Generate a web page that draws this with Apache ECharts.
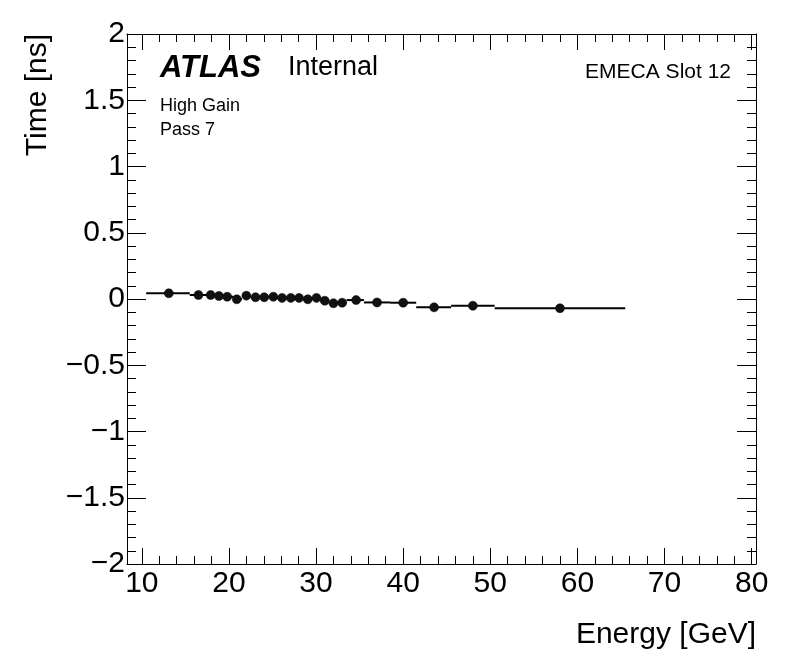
<!DOCTYPE html>
<html>
<head>
<meta charset="utf-8">
<title>EMECA Slot 12</title>
<script src="https://cdn.jsdelivr.net/npm/echarts@6/dist/echarts.min.js"></script>
<style>
  html, body { margin: 0; padding: 0; background: #fff; }
  #chart { width: 796px; height: 672px; }
</style>
</head>
<body>
<div id="chart"></div>
<script>
'use strict';

// mean energy of each bin [GeV]
var energy = [13.1, 16.5, 17.9, 18.85, 19.8, 20.9, 22.0, 23.05, 24.05, 25.1, 26.1, 27.1,
  28.05, 29.05, 30.05, 31.0, 32.0, 33.0, 34.6, 37.0, 40.0, 43.55, 48.0, 58.0];
// mean time [ns]
var time = [0.043, 0.030, 0.030, 0.023, 0.017, -0.002, 0.025, 0.013, 0.013, 0.017, 0.008, 0.008,
  0.008, -0.002, 0.008, -0.013, -0.032, -0.028, -0.008, -0.026, -0.028, -0.063, -0.051, -0.070];
// bin edges (horizontal error bars)
var binLow = [10.5, 15.5, 17.5, 18.5, 19.5, 20.5, 21.5, 22.5, 23.5, 24.5, 25.5, 26.5,
  27.5, 28.5, 29.5, 30.5, 31.5, 32.5, 33.5, 35.5, 38.5, 41.5, 45.5, 50.5];
var binHigh = [15.5, 17.5, 18.5, 19.5, 20.5, 21.5, 22.5, 23.5, 24.5, 25.5, 26.5, 27.5,
  28.5, 29.5, 30.5, 31.5, 32.5, 33.5, 35.5, 38.5, 41.5, 45.5, 50.5, 65.5];

// tick positions
var xMajorTicks = [10, 20, 30, 40, 50, 60, 70, 80];
var xMinorTicks = [10, 12, 14, 16, 18, 20, 22, 24, 26, 28, 30, 32, 34, 36, 38, 40, 42, 44, 46,
  48, 50, 52, 54, 56, 58, 60, 62, 64, 66, 68, 70, 72, 74, 76, 78, 80];

var FONT = '"Liberation Sans", Arial, Helvetica, sans-serif';
var X_MIN = 8.3, X_MAX = 80.5;

var chart = echarts.init(document.getElementById('chart'));

var pointData = [];
var barData = [];
for (var i = 0; i < energy.length; i++) {
  pointData.push([energy[i], time[i]]);
  barData.push([binLow[i], binHigh[i], time[i]]);
}

var black = { color: '#000', width: 1 };

function xAxis(position, ticks, len, withLine, withLabel) {
  return {
    type: 'value',
    position: position,
    min: X_MIN,
    max: X_MAX,
    axisLine: { show: withLine, onZero: false, lineStyle: black },
    axisTick: { show: true, inside: true, length: len, customValues: ticks, lineStyle: black },
    axisLabel: {
      show: withLabel,
      customValues: ticks,
      margin: 5,
      color: '#000',
      fontSize: 30,
      fontFamily: FONT
    },
    splitLine: { show: false }
  };
}

function yAxis(position, withLabel) {
  return {
    type: 'value',
    position: position,
    min: -2,
    max: 2,
    interval: 0.5,
    axisLine: { show: true, onZero: false, lineStyle: black },
    axisTick: { show: true, inside: true, length: 19, lineStyle: black },
    minorTick: { show: true, splitNumber: 5, length: 9, lineStyle: black },
    axisLabel: {
      show: withLabel,
      margin: 2,
      color: '#000',
      fontSize: 30,
      fontFamily: FONT,
      formatter: function (v) {
        return v < 0 ? '\u2212' + Math.abs(v) : String(v);
      }
    },
    splitLine: { show: false },
    minorSplitLine: { show: false }
  };
}

var option = {
  backgroundColor: '#fff',
  animation: false,
  grid: {
    left: 127,
    right: 40,
    top: 34,
    bottom: 108,
    containLabel: false,
    outerBoundsMode: 'none'
  },
  xAxis: [
    xAxis('bottom', xMajorTicks, 16, true, true),
    xAxis('bottom', xMinorTicks, 8, false, false),
    xAxis('top', xMajorTicks, 16, true, false),
    xAxis('top', xMinorTicks, 8, false, false)
  ],
  yAxis: [
    yAxis('left', true),
    yAxis('right', false)
  ],
  graphic: [
    {
      type: 'text', x: 160, y: 68,
      style: { text: 'ATLAS', font: 'italic bold 31px ' + FONT, fill: '#000', verticalAlign: 'middle' }
    },
    {
      type: 'text', x: 288, y: 68,
      style: { text: 'Internal', font: '27px ' + FONT, fill: '#000', verticalAlign: 'middle' }
    },
    {
      type: 'text', x: 160, y: 106,
      style: { text: 'High Gain', font: '18px ' + FONT, fill: '#000', verticalAlign: 'middle' }
    },
    {
      type: 'text', x: 160, y: 130,
      style: { text: 'Pass 7', font: '18px ' + FONT, fill: '#000', verticalAlign: 'middle' }
    },
    {
      type: 'text', x: 731, y: 72,
      style: { text: 'EMECA Slot 12', font: '21px ' + FONT, fill: '#000', align: 'right', verticalAlign: 'middle' }
    },
    {
      type: 'text', x: 756, y: 635,
      style: { text: 'Energy [GeV]', font: '30px ' + FONT, fill: '#000', align: 'right', verticalAlign: 'middle' }
    },
    {
      type: 'text', x: 38, y: 34, rotation: Math.PI / 2,
      style: { text: 'Time [ns]', font: '30px ' + FONT, fill: '#000', align: 'right', verticalAlign: 'middle' }
    }
  ],
  series: [
    {
      // bin width bars
      type: 'custom',
      xAxisIndex: 0,
      yAxisIndex: 0,
      data: barData,
      encode: { x: [0, 1], y: 2 },
      renderItem: function (params, api) {
        var a = api.coord([api.value(0), api.value(2)]);
        var b = api.coord([api.value(1), api.value(2)]);
        return {
          type: 'line',
          shape: { x1: a[0], y1: a[1], x2: b[0], y2: b[1] },
          style: { stroke: '#000', lineWidth: 2 }
        };
      },
      z: 2
    },
    {
      type: 'scatter',
      xAxisIndex: 0,
      yAxisIndex: 0,
      data: pointData,
      symbol: 'circle',
      symbolSize: 9,
      itemStyle: { color: '#111', borderColor: '#000', borderWidth: 0.5, opacity: 1 },
      z: 3
    }
  ]
};

chart.setOption(option);
</script>
</body>
</html>
